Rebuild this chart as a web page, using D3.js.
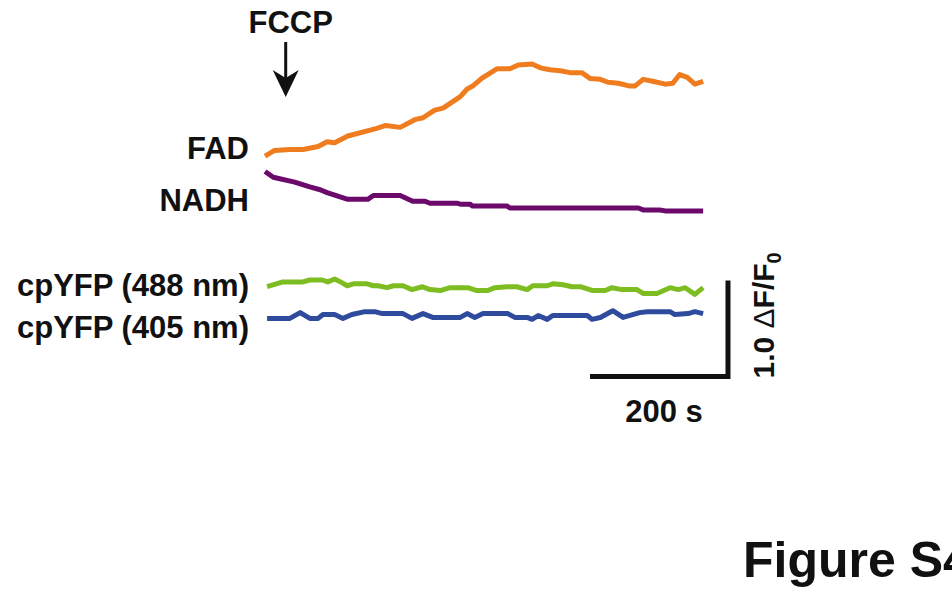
<!DOCTYPE html>
<html>
<head>
<meta charset="utf-8">
<script src="https://cdn.jsdelivr.net/npm/d3@7"></script>
<style>
  body { margin: 0; background: #fff; }
  text { font-family: Arial, "Liberation Sans", sans-serif; font-weight: bold; fill: #111; }
</style>
</head>
<body>
<div id="chart"></div>
<script>
// traces: time (s) and stacked dF/F0 (offset per trace already included)
var fadT = [0, 14, 36, 55, 77, 90, 101, 120, 162, 175, 196, 217, 229, 246, 258, 283, 293, 301, 314, 336, 355, 367, 387, 399, 413, 428, 442, 459, 471, 486, 497, 512, 529, 536, 548, 562, 580, 591, 601, 612, 623, 635];
var fadV = [2.54, 2.60, 2.61, 2.61, 2.64, 2.69, 2.68, 2.75, 2.83, 2.86, 2.84, 2.92, 2.94, 3.02, 3.04, 3.16, 3.24, 3.27, 3.35, 3.45, 3.45, 3.49, 3.50, 3.46, 3.44, 3.43, 3.41, 3.41, 3.35, 3.34, 3.31, 3.30, 3.27, 3.27, 3.34, 3.32, 3.29, 3.30, 3.39, 3.36, 3.29, 3.32];

var nadhT = [0, 12, 43, 65, 80, 90, 120, 149, 157, 196, 214, 232, 239, 278, 283, 297, 301, 351, 355, 541, 548, 572, 580, 635];
var nadhV = [2.38, 2.32, 2.27, 2.22, 2.19, 2.16, 2.09, 2.09, 2.13, 2.13, 2.07, 2.07, 2.05, 2.05, 2.04, 2.04, 2.02, 2.02, 2.00, 2.00, 1.98, 1.98, 1.97, 1.97];

var yfp488T = [3, 26, 55, 65, 83, 91, 101, 112, 119, 128, 148, 157, 164, 177, 186, 200, 213, 228, 239, 254, 268, 294, 307, 323, 333, 351, 365, 380, 388, 409, 417, 432, 445, 457, 475, 493, 503, 517, 539, 548, 568, 587, 599, 609, 623, 635];
var yfp488V = [1.18, 1.23, 1.23, 1.25, 1.25, 1.23, 1.26, 1.22, 1.19, 1.21, 1.21, 1.19, 1.19, 1.17, 1.19, 1.19, 1.15, 1.18, 1.15, 1.14, 1.17, 1.17, 1.14, 1.14, 1.17, 1.18, 1.18, 1.15, 1.19, 1.19, 1.21, 1.20, 1.18, 1.18, 1.14, 1.14, 1.17, 1.15, 1.15, 1.11, 1.11, 1.17, 1.15, 1.17, 1.10, 1.17];

var yfp405T = [3, 36, 51, 65, 77, 84, 101, 113, 126, 145, 159, 170, 200, 213, 229, 243, 283, 293, 304, 316, 352, 362, 380, 387, 396, 409, 417, 467, 474, 486, 504, 519, 543, 554, 587, 594, 613, 623, 635];
var yfp405V = [0.85, 0.85, 0.91, 0.85, 0.85, 0.89, 0.89, 0.85, 0.89, 0.92, 0.92, 0.90, 0.90, 0.85, 0.90, 0.86, 0.86, 0.90, 0.86, 0.90, 0.90, 0.86, 0.86, 0.84, 0.88, 0.84, 0.88, 0.88, 0.84, 0.86, 0.93, 0.86, 0.91, 0.92, 0.92, 0.89, 0.90, 0.92, 0.90];

var traceNames = ["FAD", "NADH", "cpYFP (488 nm)", "cpYFP (405 nm)"];
var traceColors = ["#ef7d1f", "#6b0a6a", "#7dbd22", "#2e4b9d"];
var labelValues = [2.51, 1.97, 1.08, 0.65]; // where each name sits

var fccpTime = 30;
var scaleBarTime = [471, 671];   // 200 s
var scaleBarValue = [0.245, 1.245]; // 1.0 dF/F0

var width = 952, height = 592;

var svg = d3.select("#chart").append("svg")
    .attr("width", width)
    .attr("height", height);

var x = d3.scaleLinear().domain([0, 640]).range([265, 265 + 640 * 0.69]);
var y = d3.scaleLinear().domain([0, 4]).range([400, 16]);

var line = d3.line()
    .x(function (d) { return x(d[0]); })
    .y(function (d) { return y(d[1]); });

var traces = [
    d3.zip(fadT, fadV),
    d3.zip(nadhT, nadhV),
    d3.zip(yfp488T, yfp488V),
    d3.zip(yfp405T, yfp405V)
];

svg.selectAll("path.trace")
    .data(traces)
    .enter()
    .append("path")
    .attr("class", "trace")
    .attr("d", line)
    .attr("fill", "none")
    .attr("stroke", function (d, i) { return traceColors[i]; })
    .attr("stroke-width", 5)
    .attr("stroke-linejoin", "round");

svg.selectAll("text.name")
    .data(traceNames)
    .enter()
    .append("text")
    .attr("class", "name")
    .attr("x", 249)
    .attr("y", function (d, i) { return y(labelValues[i]); })
    .attr("text-anchor", "end")
    .style("font-size", "31px")
    .text(function (d) { return d; });

// FCCP arrow
var ax = x(fccpTime);
svg.append("text")
    .attr("x", ax + 5)
    .attr("y", 33)
    .attr("text-anchor", "middle")
    .style("font-size", "31px")
    .text("FCCP");
svg.append("line")
    .attr("x1", ax).attr("x2", ax)
    .attr("y1", 42).attr("y2", 80)
    .attr("stroke", "#111")
    .attr("stroke-width", 3);
svg.append("path")
    .attr("d", "M" + (ax - 13) + ",70 L" + ax + ",78 L" + (ax + 13) + ",70 L" + ax + ",97 Z")
    .attr("fill", "#111");

// scale bar
svg.append("path")
    .attr("d", "M" + x(scaleBarTime[0]) + "," + y(scaleBarValue[0]) +
        " H" + x(scaleBarTime[1]) + " V" + y(scaleBarValue[1]))
    .attr("fill", "none")
    .attr("stroke", "#111")
    .attr("stroke-width", 5);

svg.append("text")
    .attr("x", (x(scaleBarTime[0]) + x(scaleBarTime[1])) / 2 + 5)
    .attr("y", 422)
    .attr("text-anchor", "middle")
    .style("font-size", "31px")
    .text("200 s");

var vl = svg.append("text")
    .attr("transform", "translate(774," + (y(scaleBarValue[0]) + 2) + ") rotate(-90)")
    .style("font-size", "30px");
vl.append("tspan").text("1.0 ");
vl.append("tspan").style("font-weight", "normal").text("\u0394");
vl.append("tspan").text("F/F");
vl.append("tspan").attr("dy", 7).style("font-size", "20px").text("0");

// the figure tag runs past the right edge, as in the original
svg.append("text")
    .attr("x", 743)
    .attr("y", 577)
    .style("font-size", "50px")
    .text("Figure S4");
</script>
</body>
</html>
